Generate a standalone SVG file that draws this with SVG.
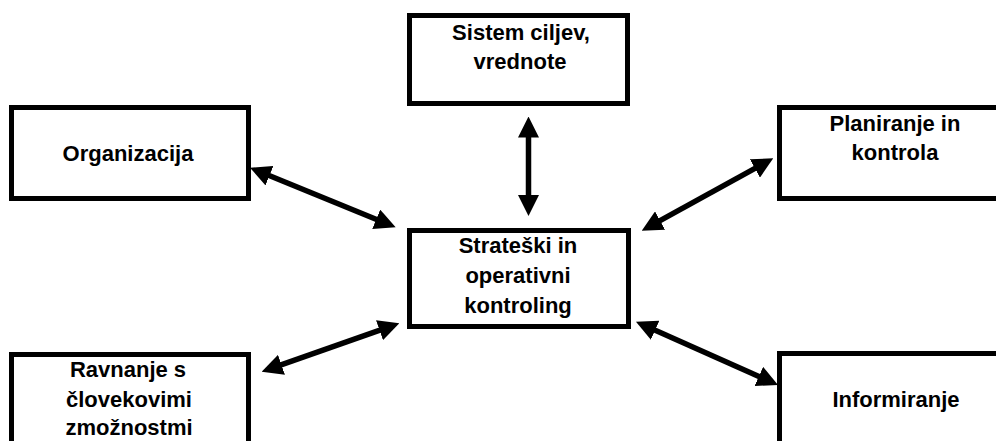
<svg xmlns="http://www.w3.org/2000/svg" width="996" height="441" viewBox="0 0 996 441">
<style>
.box{fill:#fff;stroke:#000;stroke-width:5}
.lbl{font-family:"Liberation Sans",Arial,sans-serif;font-weight:bold;font-size:22px;fill:#000;text-anchor:middle}
.conn{stroke:#000;stroke-width:5.5;fill:none;marker-start:url(#ah);marker-end:url(#ah)}
</style>
<defs>
<marker id="ah" markerUnits="userSpaceOnUse" markerWidth="21" markerHeight="21" refX="11" refY="10.5" orient="auto-start-reverse">
<path d="M0,0 L21,10.5 L0,21 z" fill="#000"/>
</marker>
</defs>
<rect width="996" height="441" fill="#fff"/>
<g id="connectors">
<line class="conn" x1="528.5" y1="126.5" x2="528.5" y2="206"/>
<line class="conn" x1="259.3" y1="171.5" x2="386.4" y2="223.5"/>
<line class="conn" x1="389.9" y1="326.6" x2="271.1" y2="368.4"/>
<line class="conn" x1="764.5" y1="163.1" x2="650.5" y2="225.9"/>
<line class="conn" x1="645.1" y1="325.8" x2="768.9" y2="380.9"/>
</g>
<g id="sistem">
<rect class="box" x="409.5" y="15.5" width="218" height="88"/>
<text class="lbl" x="521" y="39.5">Sistem ciljev,</text>
<text class="lbl" x="520" y="68.5">vrednote</text>
</g>
<g id="center">
<rect class="box" x="409.5" y="230.5" width="219" height="96"/>
<text class="lbl" x="518" y="252.5">Strateški in</text>
<text class="lbl" x="518" y="283">operativni</text>
<text class="lbl" x="518" y="313">kontroling</text>
</g>
<g id="organizacija">
<rect class="box" x="11.5" y="107.5" width="237" height="91"/>
<text class="lbl" x="128" y="160.5">Organizacija</text>
</g>
<g id="ravnanje">
<rect class="box" x="11.5" y="354.5" width="237" height="100"/>
<text class="lbl" x="128" y="377">Ravnanje s</text>
<text class="lbl" x="129" y="406.5">človekovimi</text>
<text class="lbl" x="129" y="435">zmožnostmi</text>
</g>
<g id="planiranje">
<rect class="box" x="779.5" y="107.5" width="237" height="91"/>
<text class="lbl" x="895" y="130.5">Planiranje in</text>
<text class="lbl" x="895" y="160">kontrola</text>
</g>
<g id="informiranje">
<rect class="box" x="779.5" y="353.5" width="237" height="100"/>
<text class="lbl" x="896" y="407">Informiranje</text>
</g>
</svg>
